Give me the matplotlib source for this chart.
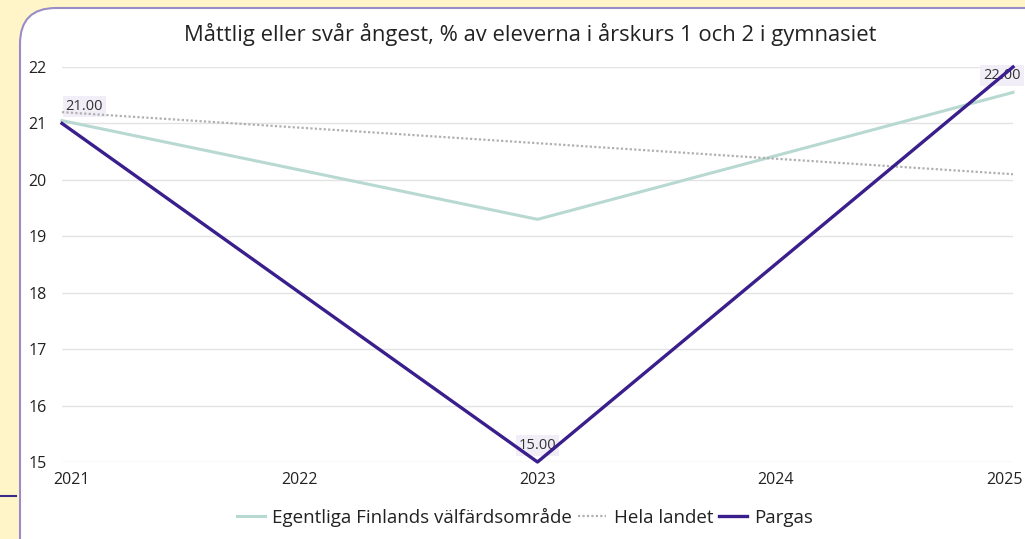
import matplotlib
matplotlib.use("Agg")
import matplotlib.pyplot as plt
import matplotlib.transforms as mtransforms
from matplotlib.patches import FancyBboxPatch
from matplotlib.lines import Line2D

plt.rcParams['font.family'] = ['Open Sans', 'DejaVu Sans']

years = [2021, 2023, 2025]
egentliga = [21.05, 19.3, 21.55]
hela_landet = [21.2, 20.65, 20.1]
pargas = [21.0, 15.0, 22.0]

title = "Måttlig eller svår ångest, % av eleverna i årskurs 1 och 2 i gymnasiet"

W, H = 1025, 539
fig = plt.figure(figsize=(W / 100, H / 100), dpi=100)
fig.patch.set_facecolor('#FFF5C8')

# white card with rounded corner and purple border
card = FancyBboxPatch((20 / W, -40 / H), (W + 40) / W, (H - 8 + 40) / H,
                      boxstyle="round,pad=0,rounding_size=0.035",
                      transform=fig.transFigure, facecolor='white',
                      edgecolor='#9A8CC8', linewidth=1.5, mutation_aspect=W / H,
                      zorder=-10)
fig.patches.append(card)
fig.lines.append(Line2D([0, 16 / W], [1 - 496 / H, 1 - 496 / H],
                        transform=fig.transFigure, color='#3B2A8A', lw=1.5, zorder=-5))

ax = fig.add_axes([62 / W, 1 - 462 / H, (1013 - 62) / W, (462 - 67) / H])
ax.set_facecolor('none')

ax.plot(years, egentliga, color='#B8D9D1', lw=2.2, label='Egentliga Finlands välfärdsområde',
        zorder=3, clip_on=False)
ax.plot(years, hela_landet, color='#B0B0B0', lw=1.6, ls=(0, (1, 1)), label='Hela landet',
        zorder=3, clip_on=False)
ax.plot(years, pargas, color='#3A1E8C', lw=2.4, label='Pargas', zorder=4, clip_on=False)

# value labels sit under the lines
offsets = [(16, 12), (0, 12), (-8, -6)]
for x, y, off in zip(years, pargas, offsets):
    ax.annotate(f"{y:.2f}", (x, y), xytext=off, textcoords='offset points',
                ha='center', va='center', fontsize=10.5, color='#333333', zorder=2,
                bbox=dict(boxstyle='square,pad=0.2', fc='#F1EEF7', ec='none'))

ax.set_xlim(2021, 2025)
ax.set_ylim(15, 22)
ax.set_yticks(range(15, 23))
ax.set_xticks(range(2021, 2026))
ax.grid(axis='y', color='#E3E3E3', lw=1)
ax.set_axisbelow(True)
for s in ax.spines.values():
    s.set_visible(False)
ax.tick_params(length=0, labelsize=11.5, colors='#222222')
ax.tick_params(axis='y', pad=11)
ax.tick_params(axis='x', pad=7)

# keep the end labels inside the card
labels = ax.get_xticklabels()
labels[0].set_ha('left')
labels[0].set_transform(labels[0].get_transform()
                        + mtransforms.ScaledTranslation(-9 / 100, 0, fig.dpi_scale_trans))
labels[-1].set_ha('right')
labels[-1].set_transform(labels[-1].get_transform()
                         + mtransforms.ScaledTranslation(10 / 100, 0, fig.dpi_scale_trans))

fig.text(530 / W, 1 - 35 / H, title, ha='center', va='center', fontsize=15.8, color='#222222')

fig.legend(loc='center', bbox_to_anchor=(525 / W, 1 - 517 / H), ncol=3, frameon=False,
           fontsize=13.5, handlelength=1.5, handletextpad=0.4, columnspacing=0.3,
           labelcolor='#222222')

fig.savefig('out.png', dpi=100, facecolor=fig.get_facecolor())
